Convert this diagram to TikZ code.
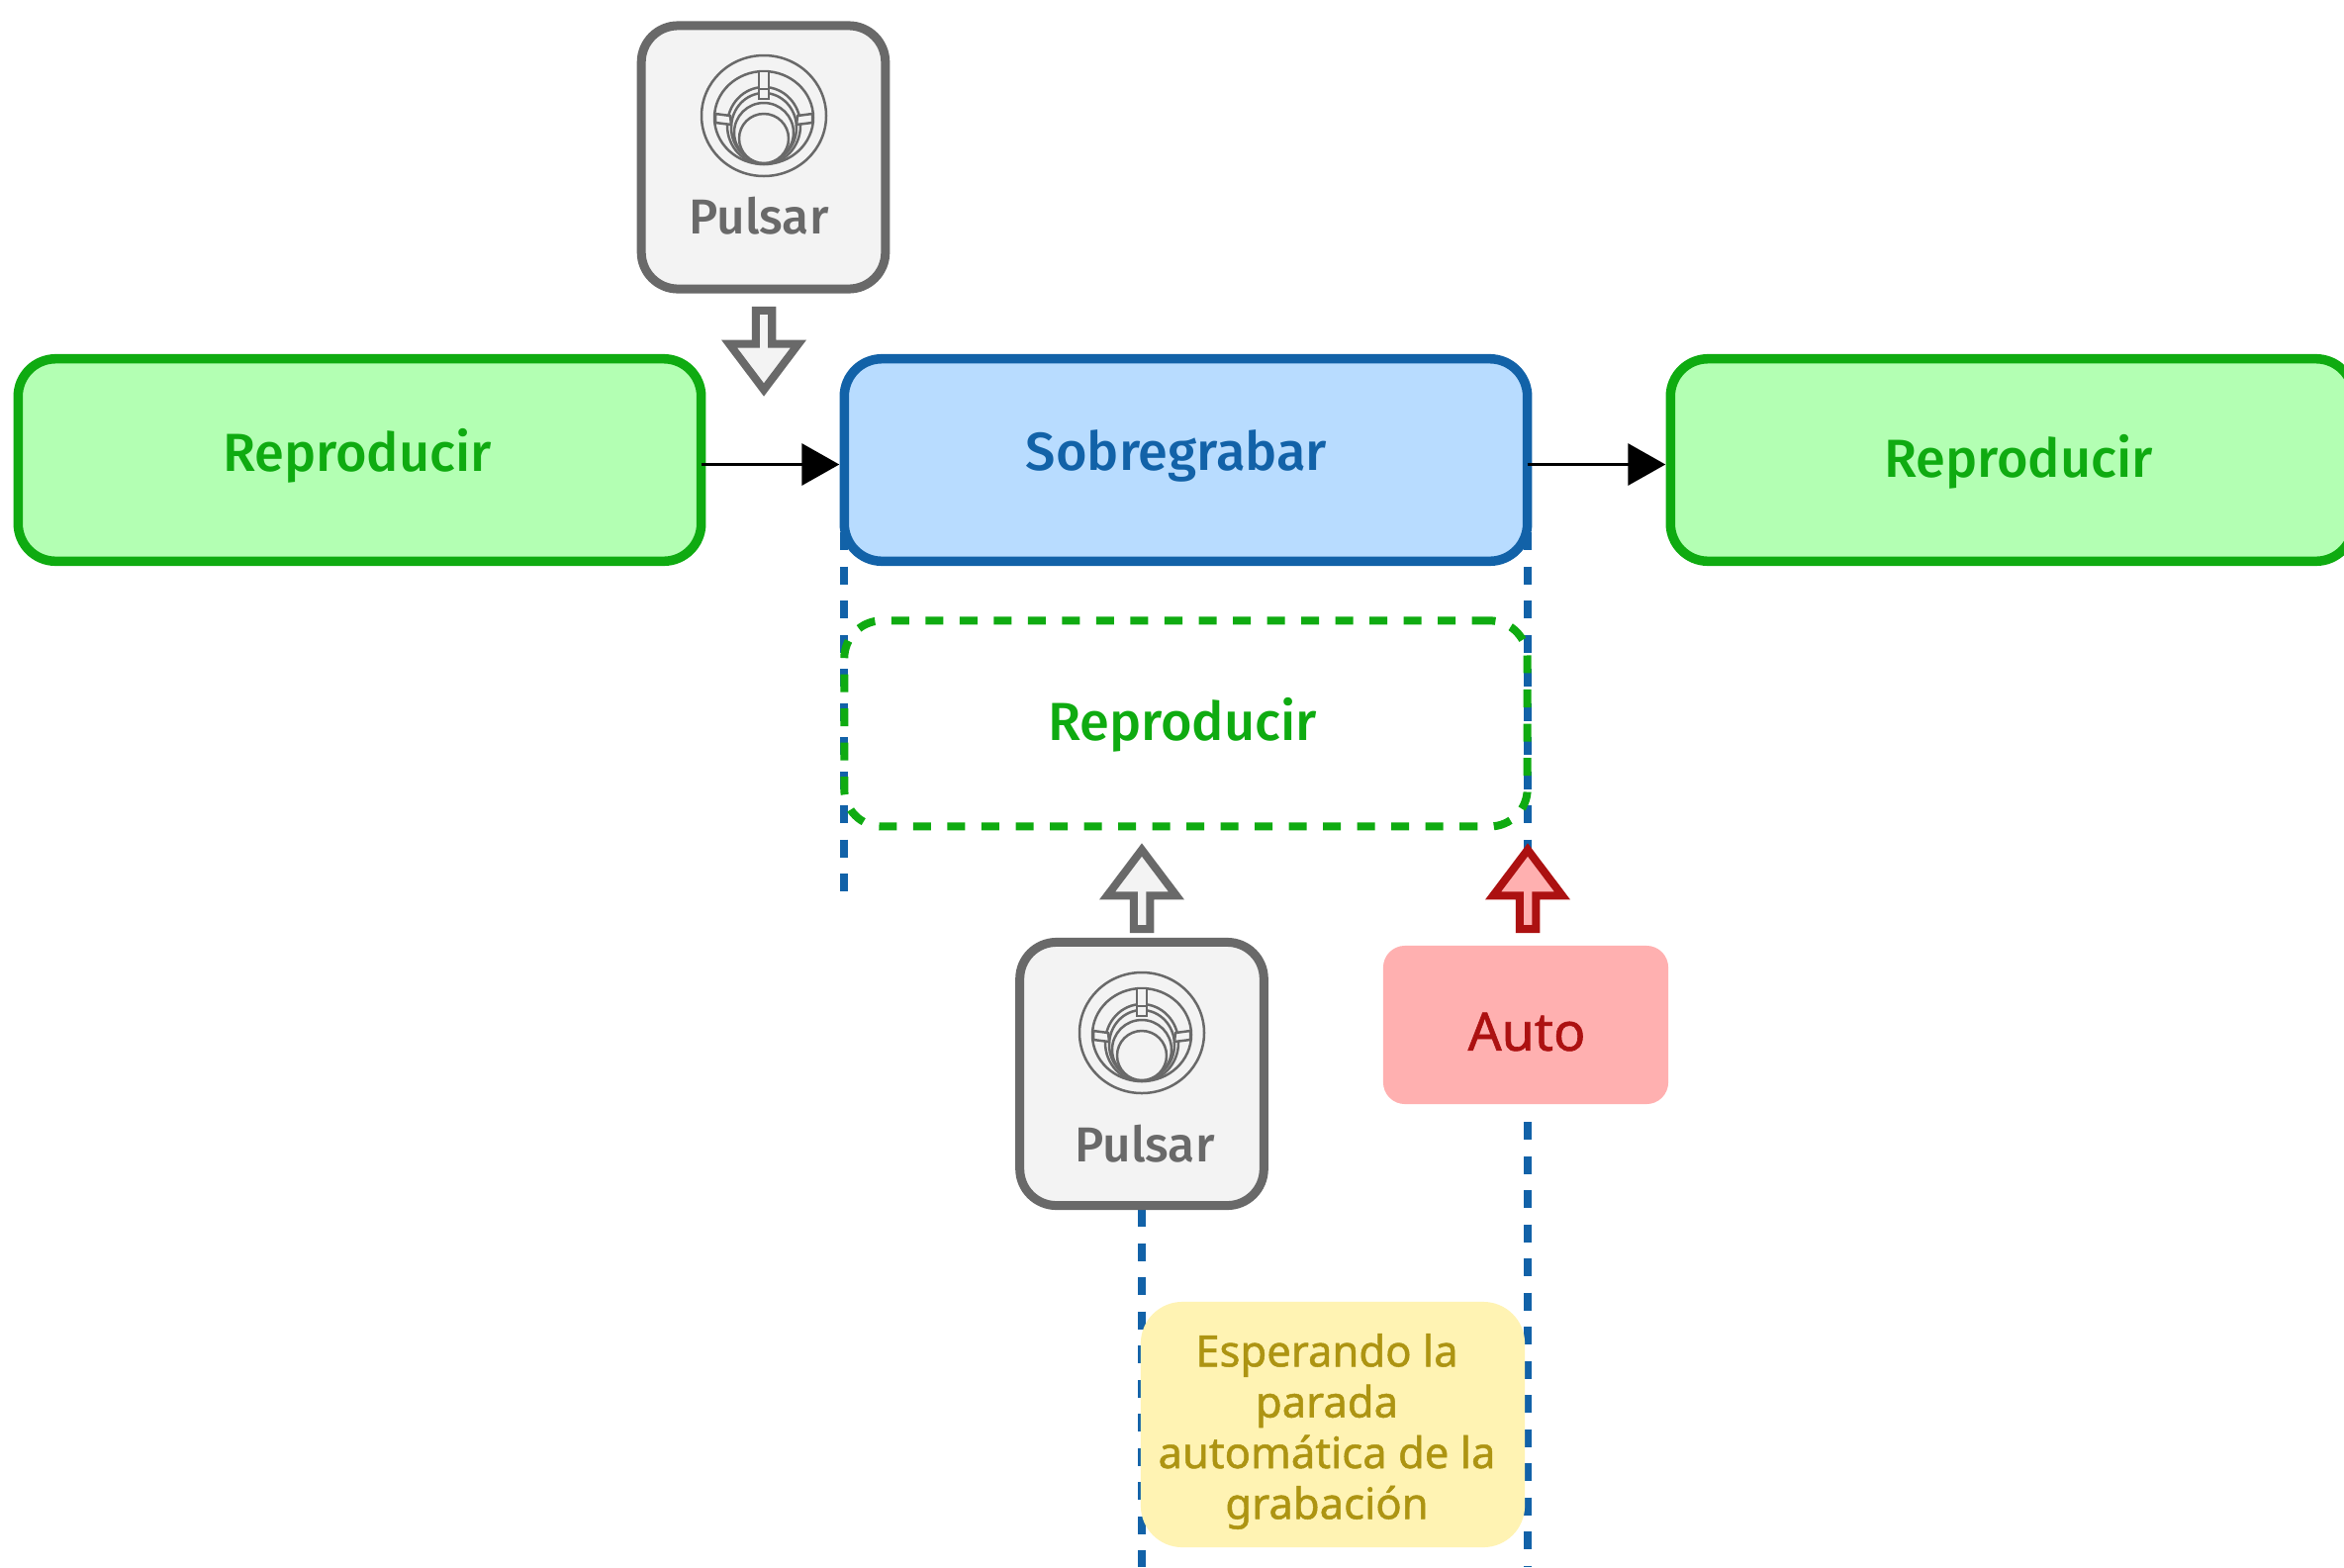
\documentclass[tikz,border=0pt]{standalone}
\usepackage{fontspec}
\setmainfont{Fira Sans}
\newfontfamily\labelfont{Fira Sans Medium}
\newfontfamily\notefont[FakeBold=1.1]{Noto Sans}
\usetikzlibrary{positioning, shapes.arrows, arrows.meta}
\definecolor{playline}{HTML}{0FAB11}
\definecolor{playfill}{HTML}{B3FFB3}
\definecolor{dubline}{HTML}{1262A8}
\definecolor{dubfill}{HTML}{B8DCFF}
\definecolor{btnline}{HTML}{696969}
\definecolor{btnfill}{HTML}{F3F3F3}
\definecolor{autoline}{HTML}{AC1111}
\definecolor{autofill}{HTML}{FFB0B0}
\definecolor{waitline}{HTML}{AD9412}
\definecolor{waitfill}{HTML}{FFF3B3}
\tikzstyle{mode} = [rectangle, rounded corners=0.38cm, minimum width=6.9cm, minimum height=2.045cm, line width=0.095cm, inner sep=0pt, outer sep=0pt]
\tikzstyle{play} = [mode, draw=playline, fill=playfill]
\tikzstyle{dub} = [mode, draw=dubline, fill=dubfill]
\tikzstyle{playghost} = [mode, draw=playline, minimum height=2.08cm, line width=0.08cm, dash pattern=on 0.18cm off 0.165cm]
\tikzstyle{modetext} = [inner sep=0pt, font=\labelfont\fontsize{15.4}{18}\selectfont]
\tikzstyle{btnbox} = [rectangle, rounded corners=0.37cm, minimum width=2.465cm, minimum height=2.66cm, line width=0.09cm, draw=btnline, fill=btnfill, inner sep=0pt, outer sep=0pt]
\tikzstyle{btntext} = [text=btnline, inner sep=0pt, font=\labelfont\fontsize{14.1}{17}\selectfont]
\tikzstyle{push} = [single arrow, single arrow head extend=0.13cm, single arrow tip angle=74, minimum width=0.7cm, minimum height=0.8cm, line width=0.08cm, inner sep=0pt, outer sep=0pt, anchor=tip]
\tikzstyle{pushgray} = [push, draw=btnline, fill=btnfill]
\tikzstyle{pushred} = [push, draw=autoline, fill=autofill]
\tikzstyle{arrow} = [line width=0.035cm, shorten >=0.05cm, -{Triangle[length=0.38cm, width=0.42cm]}]
\tikzstyle{guide} = [draw=dubline, line width=0.08cm, dash pattern=on 0.18cm off 0.165cm]
\tikzset{
  knob/.pic={
    \begin{scope}[draw=btnline, line width=0.025cm]
      \draw (0,0) ellipse [x radius=63, y radius=61];
      \draw (0,2) ellipse [x radius=50, y radius=47];
      \draw (0,10) ellipse [x radius=37, y radius=39];
      \draw (0,12) ellipse [x radius=33, y radius=35];
      \draw (0,17) ellipse [x radius=30, y radius=30];
      \draw [fill=btnfill] (-5,-45) rectangle (5,-17);
      \draw (-5,-27) -- (5,-27);
      \draw [fill=btnfill] (-49,-2) -- (-34,0) -- (-33,9) -- (-49,7) -- cycle;
      \draw [fill=btnfill] (49,-2) -- (34,0) -- (33,9) -- (49,7) -- cycle;
      \draw [fill=btnfill] (0,23) circle [radius=25];
    \end{scope}
  }
}
\begin{document}
\begin{tikzpicture}[x=0.01cm, y=-0.01cm]
	\useasboundingbox (0,0) rectangle (2369,1584);
	% guides
	\coordinate (guideAtop) at (853,538);
	\coordinate (guideAend) at (853,902);
	\coordinate (guideBtop) at (1544,538);
	\coordinate (guideBend) at (1544,902);
	\coordinate (guideCtop) at (1544,1134);
	\coordinate (guideCend) at (1544,1584);
	\coordinate (guideDtop) at (1154,1222);
	\coordinate (guideDend) at (1154,1584);
	\draw [guide] (guideAtop) -- (guideAend);
	\draw [guide] (guideBtop) -- (guideBend);
	\draw [guide] (guideCtop) -- (guideCend);
	\draw [guide] (guideDtop) -- (guideDend);
	% modes
	\node (rep1) [play] at (363.5,465) {};
	\node (dub) [dub, right=1.445cm of rep1] {};
	\node (rep2) [play, right=1.445cm of dub] {};
	\node (ghost) [playghost, below=0.6cm of dub] {};
	\node (rep1text) [modetext, text=playline] at (361,461) {Reproducir};
	\node (dubtext) [modetext, text=dubline] at (1189,461) {Sobregrabar};
	\node (rep2text) [modetext, text=playline] at (2040,467) {Reproducir};
	\node (ghosttext) [modetext, text=playline] at (1195,733) {Reproducir};
	\draw [arrow] ([yshift=-0.045cm]rep1.east) -- ([yshift=-0.045cm]dub.west);
	\draw [arrow] ([yshift=-0.045cm]dub.east) -- ([yshift=-0.045cm]rep2.west);
	% top button
	\node (btnA) [btnbox] at (771.5,159) {};
	\pic at (772,117) {knob};
	\node (btnAtext) [btntext] at (767,218) {Pulsar};
	\node (pushA) [pushgray, rotate=-90] at (772,394) {};
	% bottom button
	\node (btnB) [btnbox] at (1154,1085.5) {};
	\pic at (1154,1044) {knob};
	\node (btnBtext) [btntext] at (1157,1156) {Pulsar};
	\node (pushB) [pushgray, rotate=90] at (1154,859) {};
	% auto stop
	\node (autostop) [rectangle, rounded corners=0.22cm, minimum width=2.88cm, minimum height=1.6cm, fill=autofill, inner sep=0pt] at (1542,1036) {};
	\node (autotext) [text=autoline, inner sep=0pt, font=\notefont\fontsize{15.2}{18}\selectfont] at (1543,1043) {Auto};
	\node (pushC) [pushred, rotate=90] at (1544,859) {};
	% waiting note
	\node (wait) [rectangle, rounded corners=0.42cm, minimum width=3.88cm, minimum height=2.48cm, fill=waitfill, inner sep=0pt] at (1347,1440) {};
	\node (waittext) [text=waitline, inner sep=0pt, align=center, font=\notefont\fontsize{12.4}{14.6}\selectfont] at (1341,1447) {Esperando la\\parada\\automática de la\\grabación};
\end{tikzpicture}
\end{document}
